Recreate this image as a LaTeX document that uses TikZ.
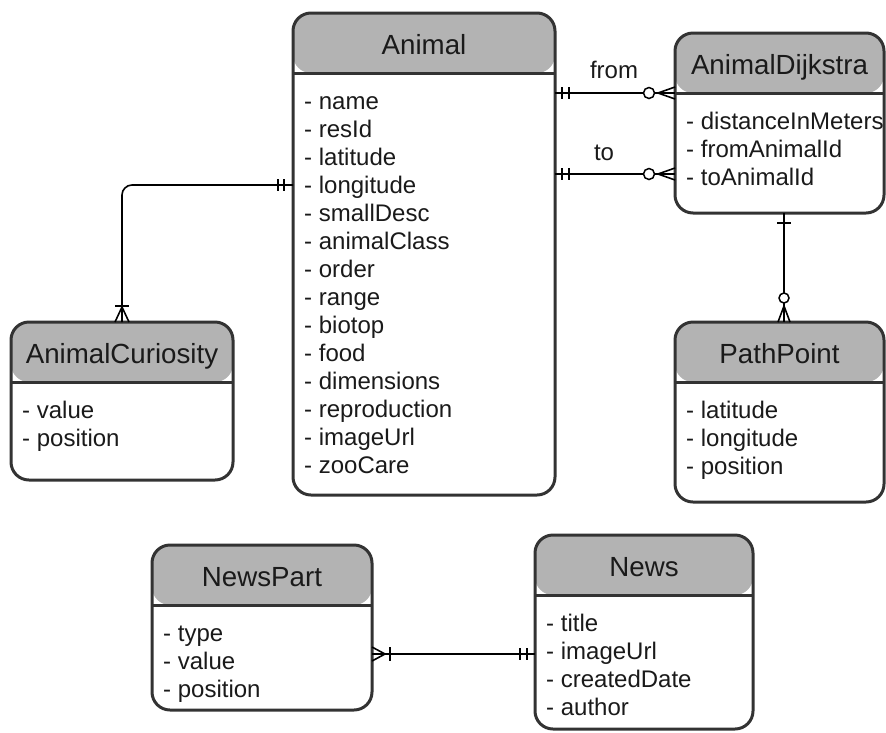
\documentclass[tikz,border=0pt]{standalone}
\usepackage{fontspec}
\setmainfont{Liberation Sans}
\usetikzlibrary{calc}
\definecolor{hdr}{HTML}{B3B3B3}
\definecolor{edge}{HTML}{333333}
\definecolor{ink}{HTML}{1A1A1A}

\tikzset{
  ent/.style={draw=edge, line width=3pt, rounded corners=18pt, fill=white,
    inner sep=0pt, outer sep=0pt, anchor=north west,
    path picture={
      \fill[hdr] (path picture bounding box.north west) rectangle
        ([yshift=-60pt]path picture bounding box.north east);
      \draw[edge, line width=3pt] ([yshift=-60pt]path picture bounding box.north west) --
        ([yshift=-60pt]path picture bounding box.north east);}},
  ttl/.style={font=\fontsize{27.7}{33}\selectfont, text=ink, anchor=base, inner sep=0pt},
  attr/.style={font=\fontsize{24}{28}\selectfont, text=ink, anchor=base west, inner sep=0pt},
  lbl/.style={font=\fontsize{24}{28}\selectfont, text=ink, anchor=base, inner sep=0pt},
  conn/.style={draw=black, line width=1.6pt},
  ring/.style={draw=black, fill=white, line width=1.5pt},
}

% name, left, top, width, height, title, attribute list
\newcommand{\entitybox}[7]{%
  \node[ent, minimum width=#4pt, minimum height=#5pt] (#1) at (#2,#3) {};
  \node[ttl] (#1-title) at ($(#1.north)+(0,41)$) {#6};
  \foreach \a [count=\i] in {#7} {
    \node[attr] (#1-a\i) at ($(#1.north west)+(11,96+28*\i-28)$) {- \a};
  }%
}

\begin{document}
\begin{tikzpicture}[x=1pt, y=-1pt]
\useasboundingbox (0,0) rectangle (886,732);

\entitybox{animal}{293}{13}{262}{482}{Animal}{name, resId, latitude, longitude, smallDesc, animalClass, order, range, biotop, food, dimensions, reproduction, imageUrl, zooCare}
\entitybox{dijk}{675}{33}{209}{180}{AnimalDijkstra}{distanceInMeters, fromAnimalId, toAnimalId}
\entitybox{curio}{11}{322}{222}{158}{AnimalCuriosity}{value, position}
\entitybox{pathpt}{675}{322}{209}{180}{PathPoint}{latitude, longitude, position}
\entitybox{newspart}{152}{545}{220}{165}{NewsPart}{type, value, position}
\entitybox{news}{535}{535}{218}{194}{News}{title, imageUrl, createdDate, author}

% Animal -> AnimalDijkstra (from)
\coordinate (fromA) at ($(animal.north east)+(0,80)$);
\coordinate (fromB) at (dijk.west |- fromA);
\draw[conn] (fromA) -- (fromB);
\draw[conn] ($(fromA)+(7,-6)$) -- ++(0,12);
\draw[conn] ($(fromA)+(14,-6)$) -- ++(0,12);
\draw[conn] ($(fromB)+(-17,0)$) -- ($(fromB)+(0,-6)$);
\draw[conn] ($(fromB)+(-17,0)$) -- ($(fromB)+(0,6)$);
\draw[ring] ($(fromB)+(-26,0)$) circle (5.5);
\node[lbl] (fromlbl) at (614,78) {from};

% Animal -> AnimalDijkstra (to)
\coordinate (toA) at ($(animal.north east)+(0,161)$);
\coordinate (toB) at (dijk.west |- toA);
\draw[conn] (toA) -- (toB);
\draw[conn] ($(toA)+(7,-6)$) -- ++(0,12);
\draw[conn] ($(toA)+(14,-6)$) -- ++(0,12);
\draw[conn] ($(toB)+(-17,0)$) -- ($(toB)+(0,-6)$);
\draw[conn] ($(toB)+(-17,0)$) -- ($(toB)+(0,6)$);
\draw[ring] ($(toB)+(-26,0)$) circle (5.5);
\node[lbl] (tolbl) at (604,160) {to};

% Animal -> AnimalCuriosity
\coordinate (cA) at ($(animal.north west)+(0,172)$);
\draw[conn, rounded corners=10pt] (cA) -| (curio.north);
\draw[conn] ($(cA)+(-9,-6)$) -- ++(0,12);
\draw[conn] ($(cA)+(-15,-6)$) -- ++(0,12);
\draw[conn] ($(curio.north)+(-7,-16)$) -- ++(14,0);
\draw[conn] ($(curio.north)+(0,-15)$) -- ($(curio.north)+(-7,0)$);
\draw[conn] ($(curio.north)+(0,-15)$) -- ($(curio.north)+(7,0)$);

% AnimalDijkstra -> PathPoint
\coordinate (dA) at ($(dijk.south west)+(109,0)$);
\coordinate (dB) at (pathpt.north -| dA);
\draw[conn] (dA) -- (dB);
\draw[conn] ($(dA)+(-7,10)$) -- ++(14,0);
\draw[conn] ($(dB)+(0,-16)$) -- ($(dB)+(-6,0)$);
\draw[conn] ($(dB)+(0,-16)$) -- ($(dB)+(6,0)$);
\draw[ring] ($(dB)+(0,-24)$) circle (5);

% NewsPart -> News
\coordinate (nA) at ($(newspart.north east)+(0,109)$);
\coordinate (nB) at (news.west |- nA);
\draw[conn] (nA) -- (nB);
\draw[conn] ($(nA)+(13,0)$) -- ($(nA)+(0,-7)$);
\draw[conn] ($(nA)+(13,0)$) -- ($(nA)+(0,7)$);
\draw[conn] ($(nA)+(18,-7)$) -- ++(0,14);
\draw[conn] ($(nB)+(-15,-6)$) -- ++(0,12);
\draw[conn] ($(nB)+(-8,-6)$) -- ++(0,12);
\end{tikzpicture}
\end{document}
